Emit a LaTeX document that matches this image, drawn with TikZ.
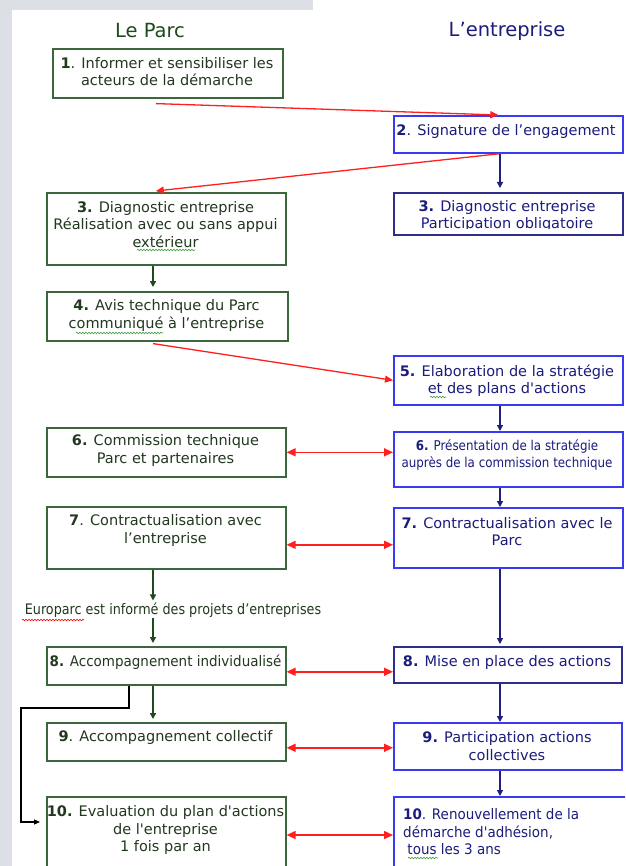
\documentclass[tikz,border=0pt]{standalone}
\usepackage{fontspec}
\setmainfont{DejaVu Sans}
\newfontfamily\basefont{DejaVu Sans}
\newfontfamily\condfont{DejaVu Sans}[FakeStretch=0.88]
\newfontfamily\semifont{DejaVu Sans}[FakeStretch=0.93]
\usetikzlibrary{arrows.meta,decorations.pathmorphing}
\definecolor{bggray}{HTML}{DCDFE6}
\definecolor{gborder}{HTML}{3C663C}
\definecolor{gtext}{HTML}{22381F}
\definecolor{garr}{HTML}{1F4A1F}
\definecolor{bborder}{HTML}{3A3AF5}
\definecolor{nborder}{HTML}{2E2E8C}
\definecolor{ntext}{HTML}{1C1C7C}
\definecolor{narr}{HTML}{20207A}
\definecolor{rarr}{HTML}{FF1F1F}
\definecolor{squig}{HTML}{3FA03F}
\begin{document}
\begin{tikzpicture}[x=1pt,y=-1pt,
  gbox/.style={draw=gborder,line width=1.6pt,anchor=north west,inner sep=0pt,fill=white},
  bbox/.style={draw=bborder,line width=1.6pt,anchor=north west,inner sep=0pt,fill=white},
  nbox/.style={draw=nborder,line width=1.6pt,anchor=north west,inner sep=0pt,fill=white},
  ltxt/.style={text=gtext,align=center,inner sep=0pt,font=\basefont\fontsize{14.5}{17.5}\selectfont},
  rtxt/.style={text=ntext,align=center,inner sep=0pt,font=\basefont\fontsize{14.5}{17.5}\selectfont},
  garrow/.style={draw=garr,line width=1.3pt,-{Triangle[length=6pt,width=6pt]}},
  narrow/.style={draw=narr,line width=1.3pt,-{Triangle[length=6pt,width=6pt]}},
  rarrow/.style={draw=rarr,line width=1.3pt,-{Triangle[length=8pt,width=7pt]}},
  rdouble/.style={draw=rarr,line width=1.4pt,{Triangle[length=9pt,width=8pt]}-{Triangle[length=9pt,width=8pt]}},
  karrow/.style={draw=black,line width=1.2pt,-{Triangle[length=6pt,width=5pt]}},
  wavy/.style={draw=#1,line width=0.6pt,decorate,decoration={snake,amplitude=0.8pt,segment length=3pt}}
]
\useasboundingbox (0,0) rectangle (625,866);
\clip (0,0) rectangle (625,866);
\fill[white] (0,0) rectangle (625,866);
\fill[bggray] (0,0) rectangle (313,10);
\fill[bggray] (0,0) rectangle (12,866);

% titles
\node[text=garr,font=\basefont\fontsize{19.5}{22}\selectfont] (tparc) at (150,31) {Le Parc};
\node[text=ntext,font=\basefont\fontsize{19.5}{22}\selectfont] (tent) at (507,31) {L’entreprise};

% boxes
\node[gbox,minimum width=230pt,minimum height=49pt] (b1) at (52,48) {};
\node[bbox,minimum width=229pt,minimum height=37pt] (b2) at (393,115) {};
\node[gbox,minimum width=239pt,minimum height=72pt] (b3l) at (46,192) {};
\node[nbox,minimum width=229pt,minimum height=42pt] (b3r) at (393,192) {};
\node[gbox,minimum width=241pt,minimum height=49pt] (b4) at (46,291) {};
\node[bbox,minimum width=229pt,minimum height=49pt] (b5) at (393,355) {};
\node[gbox,minimum width=239pt,minimum height=49pt] (b6l) at (46,427) {};
\node[bbox,minimum width=229pt,minimum height=55pt] (b6r) at (393,431) {};
\node[gbox,minimum width=239pt,minimum height=62pt] (b7l) at (46,506) {};
\node[bbox,minimum width=229pt,minimum height=60pt] (b7r) at (393,507) {};
\node[gbox,minimum width=239pt,minimum height=38pt] (b8l) at (46,646) {};
\node[nbox,minimum width=228pt,minimum height=36pt] (b8r) at (393,646) {};
\node[gbox,minimum width=239pt,minimum height=38pt] (b9l) at (46,722) {};
\node[bbox,minimum width=228pt,minimum height=47pt] (b9r) at (393,722) {};
\node[gbox,minimum width=239pt,minimum height=100pt] (b10l) at (46,796) {};
\node[bbox,minimum width=235pt,minimum height=100pt] (b10r) at (393,796) {};

% texts
\node[ltxt] (t1) at (167,71.5) {\textbf{1}. Informer et sensibiliser les\\acteurs de la démarche};
\node[rtxt] (t2) at (506,132) {\textbf{2}. Signature de l’engagement};
\node[ltxt] (t3l) at (165.5,224.5) {\textbf{3.} Diagnostic entreprise\\Réalisation avec ou sans appui\\extérieur};
\begin{scope}
\clip (393,192) rectangle (622,229);
\node[rtxt] (t3r) at (507,216) {\textbf{3.} Diagnostic entreprise\\Participation obligatoire};
\end{scope}
\node[ltxt] (t4) at (166.5,315.5) {\textbf{4.} Avis technique du Parc\\communiqué à l’entreprise};
\node[rtxt] (t5) at (507,380.5) {\textbf{5.} Elaboration de la stratégie\\et des plans d'actions};
\node[ltxt] (t6l) at (165.5,450.5) {\textbf{6.} Commission technique\\Parc et partenaires};
\node[rtxt,font=\condfont\fontsize{13.5}{16.5}\selectfont] (t6r) at (507,455) {\textbf{6.} Présentation de la stratégie\\auprès de la commission technique};
\node[ltxt] (t7l) at (165.5,530.5) {\textbf{7}. Contractualisation avec\\l’entreprise};
\node[rtxt] (t7r) at (507,531.5) {\textbf{7.} Contractualisation avec le\\Parc};
\node[ltxt,font=\condfont\fontsize{14.5}{17.5}\selectfont] (eu) at (173,610) {Europarc est informé des projets d’entreprises};
\node[ltxt,font=\semifont\fontsize{14.5}{17.5}\selectfont] (t8l) at (165.5,662) {\textbf{8.} Accompagnement individualisé};
\node[rtxt] (t8r) at (507,662) {\textbf{8.} Mise en place des actions};
\node[ltxt] (t9l) at (165.5,737) {\textbf{9}. Accompagnement collectif};
\node[rtxt] (t9r) at (507,746) {\textbf{9.} Participation actions\\collectives};
\node[ltxt] (t10l) at (165.5,830) {\textbf{10.} Evaluation du plan d'actions\\de l'entreprise\\1 fois par an};
\node[rtxt,align=left,anchor=west,font=\semifont\fontsize{14.5}{17.5}\selectfont] (t10r) at (403,832) {\textbf{10}. Renouvellement de la\\démarche d'adhésion,\\\ tous les 3 ans};

% spell-check squiggles
\draw[wavy=squig] (137,250) -- (195,250);
\draw[wavy=squig] (76,333) -- (163,333);
\draw[wavy=squig] (430,397) -- (446,397);
\draw[wavy=red] (22,620) -- (84,620);
\draw[wavy=squig] (408,858) -- (438,858);

% column coordinates
\coordinate (gx) at (153,0);
\coordinate (nx) at (500,0);

% connectors
\path (b1.south) ++(-12,5) coordinate (r1s);
\draw[rarrow] (r1s) -- ([xshift=-10pt]b2.north);
\draw[rarrow] ([xshift=-7.5pt]b2.south) -- ([xshift=-10.5pt,yshift=1pt]b3l.north);
\draw[narrow,shorten >=4pt] (b2.south -| nx) -- (b3r.north -| nx);
\draw[garrow,shorten >=4pt] (b3l.south -| gx) -- (b4.north -| gx);
\path (b4.south -| gx) ++(0,2) coordinate (r4s);
\draw[rarrow] (r4s) -- (b5.west);
\draw[narrow] (b5.south -| nx) -- (b6r.north -| nx);
\draw[rdouble] (b6l.east) -- (b6l.east -| b6r.west);
\draw[narrow] (b6r.south -| nx) -- (b7r.north -| nx);
\path (b7l.east) ++(0,7) coordinate (d7);
\draw[rdouble] (d7) -- (d7 -| b7r.west);
\draw[garrow,shorten >=2pt] (b7l.south -| gx) -- (eu.north -| gx);
\draw[garrow,shorten >=3pt] (eu.south -| gx) -- (b8l.north -| gx);
\draw[narrow,shorten >=2pt] (b7r.south -| nx) -- (b8r.north -| nx);
\path (b8l.east) ++(0,6) coordinate (d8);
\draw[rdouble] (d8) -- (d8 -| b8r.west);
\draw[garrow,shorten >=3pt] (b8l.south -| gx) -- (b9l.north -| gx);
\coordinate (k1) at (129,708);
\coordinate (k2) at (21,708);
\coordinate (k3) at (21,822);
\draw[karrow,shorten >=6pt] (b8l.south -| k1) -- (k1) -- (k2) -- (k3) -- (k3 -| b10l.west);
\draw[narrow] (b8r.south -| nx) -- (b9r.north -| nx);
\path (b9l.east) ++(0,6) coordinate (d9);
\draw[rdouble] (d9) -- (d9 -| b9r.west);
\draw[narrow] (b9r.south -| nx) -- (b10r.north -| nx);
\path (b10l.north east) ++(0,39) coordinate (d10);
\draw[rdouble] (d10) -- (d10 -| b10r.west);
\end{tikzpicture}
\end{document}
